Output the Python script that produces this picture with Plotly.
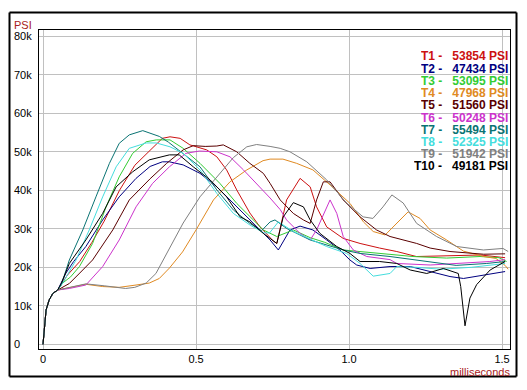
import plotly.graph_objects as go

# ---------------- data (time in ms, pressure in thousands of PSI) ----------------
common_t = [0, 0.004, 0.01, 0.02, 0.032, 0.048]
common_v = [0, 4.6, 8.9, 11.5, 13.2, 14.1]

t1_t = [0.08, 0.12, 0.16, 0.2, 0.25, 0.3, 0.35, 0.39, 0.415, 0.448, 0.48, 0.535, 0.568, 0.6, 0.633, 0.676, 0.709, 0.753, 0.764, 0.796, 0.84, 0.873, 0.894, 0.927, 0.981, 1.036, 1.1, 1.156, 1.22, 1.32, 1.43, 1.51]
t1_v = [18, 21.5, 26.5, 32, 40, 46.5, 50.5, 53.5, 53.9, 53.5, 51.8, 50.5, 48.7, 45.3, 40.1, 34.1, 30.5, 26.8, 26.2, 37.5, 43.1, 40.9, 35.7, 30.5, 27.5, 26.2, 25, 24.1, 22.8, 22.9, 23.2, 22.5]

t2_t = [0.075, 0.1, 0.14, 0.195, 0.249, 0.304, 0.35, 0.39, 0.413, 0.458, 0.513, 0.568, 0.633, 0.687, 0.742, 0.769, 0.807, 0.84, 0.882, 0.927, 0.97, 1.003, 1.025, 1.069, 1.134, 1.2, 1.265, 1.33, 1.374, 1.44, 1.51]
t2_v = [18.5, 21.5, 25.4, 32.3, 38.3, 43.1, 46.2, 47.4, 47.4, 46.6, 44.4, 40.9, 35.7, 31.4, 27.1, 24.5, 29.7, 30.7, 29.7, 27.1, 24.5, 21.9, 20.6, 19.7, 20.2, 20.2, 18.9, 17.6, 17.1, 18, 18.9]

t3_t = [0.064, 0.09, 0.119, 0.162, 0.206, 0.249, 0.293, 0.337, 0.37, 0.415, 0.458, 0.513, 0.578, 0.633, 0.676, 0.72, 0.764, 0.818, 0.873, 0.92, 0.981, 1.046, 1.134, 1.209, 1.319, 1.428, 1.49, 1.515]
t3_v = [15.9, 17.5, 20.2, 26.2, 35.7, 43.5, 49.6, 52.6, 53.1, 53.1, 50.9, 47, 41.8, 36.6, 33.1, 29.7, 28, 29.7, 27.7, 26.5, 24.5, 24, 23.2, 22.8, 22.4, 22.8, 22.5, 21.5]

t4_t = [0.07, 0.086, 0.14, 0.195, 0.249, 0.304, 0.347, 0.38, 0.413, 0.456, 0.5, 0.557, 0.611, 0.666, 0.719, 0.742, 0.784, 0.829, 0.882, 0.938, 1.003, 1.047, 1.079, 1.118, 1.156, 1.193, 1.232, 1.265, 1.319, 1.374, 1.44, 1.48, 1.51, 1.52]
t4_v = [14.5, 14.8, 15.6, 15, 14.8, 15.4, 15.9, 17.1, 19.8, 24, 29.7, 37.5, 42.2, 45.3, 47.7, 48.1, 48.1, 47, 45.3, 41.4, 36.6, 31.8, 29.3, 28.4, 31.4, 34.4, 32.7, 29.7, 27.1, 24.2, 22.8, 22.3, 20.5, 19.5]

t5_t = [0.086, 0.12, 0.162, 0.228, 0.282, 0.35, 0.404, 0.458, 0.491, 0.53, 0.568, 0.589, 0.633, 0.676, 0.72, 0.742, 0.775, 0.818, 0.851, 0.873, 0.894, 0.916, 0.938, 0.981, 1.036, 1.09, 1.134, 1.221, 1.265, 1.33, 1.44, 1.51]
t5_v = [15.8, 18.5, 21.9, 29.7, 37.5, 43, 47, 50.5, 51.6, 51.4, 51.5, 51.8, 50, 47, 44.4, 41.8, 37.5, 34, 32.3, 31.4, 37.5, 42.2, 42.2, 37.5, 33.1, 29.7, 28, 26.2, 25, 24.1, 23.4, 23.5]

t6_t = [0.086, 0.14, 0.195, 0.249, 0.304, 0.358, 0.413, 0.467, 0.511, 0.568, 0.611, 0.655, 0.698, 0.742, 0.775, 0.796, 0.84, 0.873, 0.894, 0.927, 0.938, 0.96, 0.981, 1.014, 1.058, 1.134, 1.156, 1.265, 1.374, 1.46, 1.51]
t6_v = [14.5, 15.4, 20.2, 27.1, 35.7, 41.8, 46.1, 49.6, 50.2, 50, 48.7, 45.3, 41.8, 38, 35, 32.3, 28.8, 27.1, 29.7, 35.7, 37.5, 34, 28, 24.5, 22.8, 22, 21, 20.6, 21, 21.5, 22]

t7_t = [0.06, 0.086, 0.13, 0.173, 0.217, 0.249, 0.282, 0.326, 0.35, 0.38, 0.41, 0.458, 0.513, 0.568, 0.622, 0.676, 0.714, 0.742, 0.758, 0.796, 0.873, 0.981, 1.036, 1.134, 1.25, 1.35, 1.45, 1.51]
t7_v = [15.5, 21.9, 29.7, 38.3, 47, 52.2, 54.4, 55.5, 54.8, 54, 52.5, 49.5, 46.1, 40.1, 34.9, 31.4, 29.5, 31.8, 32.3, 30.1, 27.1, 24.5, 23.6, 22.8, 21.5, 20.5, 21, 21.5]

t8_t = [0.065, 0.108, 0.151, 0.195, 0.239, 0.282, 0.337, 0.37, 0.415, 0.458, 0.513, 0.568, 0.622, 0.676, 0.72, 0.74, 0.769, 0.818, 0.927, 0.992, 1.036, 1.079, 1.134, 1.156, 1.22, 1.3, 1.4, 1.51]
t8_v = [16, 21.9, 29.7, 38.3, 46.1, 50.9, 52.3, 52.3, 51.3, 49.6, 45.3, 39.2, 34, 31, 29, 28.9, 31.8, 29.3, 25.4, 23.6, 21, 17.7, 18.4, 20.2, 20, 19.5, 20, 21]

t9_t = [0.07, 0.14, 0.2, 0.27, 0.3, 0.337, 0.369, 0.404, 0.458, 0.513, 0.568, 0.622, 0.666, 0.698, 0.742, 0.775, 0.807, 0.84, 0.862, 0.927, 0.992, 1.046, 1.078, 1.111, 1.14, 1.177, 1.221, 1.286, 1.352, 1.439, 1.503, 1.52]
t9_v = [14.5, 15.7, 15.2, 14.5, 14.8, 15.9, 18.4, 23.5, 31.5, 38.3, 43.5, 48.5, 51.3, 51.9, 51.4, 50.9, 50, 48.5, 47.4, 42.7, 36.7, 33.1, 32.7, 35.7, 38.8, 36.7, 31.4, 28, 25.4, 24.5, 24.9, 24.1]

t10_t = [0.06, 0.086, 0.14, 0.195, 0.239, 0.293, 0.347, 0.413, 0.445, 0.491, 0.546, 0.6, 0.644, 0.676, 0.72, 0.764, 0.785, 0.818, 0.851, 0.873, 0.905, 0.96, 1.003, 1.036, 1.1, 1.156, 1.2, 1.254, 1.308, 1.357, 1.365, 1.379, 1.395, 1.417, 1.461, 1.51]
t10_v = [15.8, 21, 27.1, 34, 40.9, 44.8, 47.9, 49.2, 49.2, 46.1, 42.7, 38.3, 33.1, 31.8, 28.8, 26.2, 33.1, 36.8, 35.7, 32.3, 28.8, 25.4, 23.6, 21.5, 21.5, 21, 19.3, 18.4, 19.7, 18.4, 15, 4.8, 12, 15.5, 19.3, 21.5]

series_times = [t1_t, t2_t, t3_t, t4_t, t5_t, t6_t, t7_t, t8_t, t9_t, t10_t]
series_values = [t1_v, t2_v, t3_v, t4_v, t5_v, t6_v, t7_v, t8_v, t9_v, t10_v]

names = ["T1", "T2", "T3", "T4", "T5", "T6", "T7", "T8", "T9", "T10"]
peaks = [53854, 47434, 53095, 47968, 51560, 50248, 55494, 52325, 51942, 49181]
colors = ["#cc1111", "#000080", "#33cc33", "#e08a22", "#5a0000",
          "#cc33cc", "#0a7373", "#44dddd", "#808080", "#000000"]

y_ticks = [0, 10, 20, 30, 40, 50, 60, 70, 80]
y_labels = ["0", "10k", "20k", "30k", "40k", "50k", "60k", "70k", "80k"]
x_ticks = [0, 0.5, 1.0, 1.5]
x_labels = ["0", "0.5", "1.0", "1.5"]

# ---------------- figure ----------------
# The page body has an 8px default margin, so the figure starts at page (8, 8).
OFF = 8
W, H = 511, 374
PL, PT, PR, PB = 39, 30, 510, 349          # plot box in page pixels
L, T = PL - OFF, PT - OFF
R, B = W - (PR - OFF), H - (PB - OFF)
PW, PH = PR - PL, PB - PT


def px_x(x):
    return (x - PL) / PW


def px_y(y):
    return (PB - y) / PH


FONT = "Liberation Sans, Arial, sans-serif"
fig = go.Figure()

for i in range(len(names)):
    fig.add_trace(go.Scatter(
        x=common_t + series_times[i],
        y=common_v + series_values[i],
        mode="lines",
        name=names[i],
        line=dict(color=colors[i], width=1),
        showlegend=False,
        hoverinfo="skip",
    ))

annotations = []
for v, lab in zip(y_ticks, y_labels):
    annotations.append(dict(x=px_x(12), xref="paper", y=v, yref="y", text=lab,
                            xanchor="left", yanchor="middle", showarrow=False,
                            font=dict(family=FONT, size=11, color="black")))

annotations.append(dict(x=px_x(12), xref="paper", y=px_y(24.5), yref="paper", text="PSI",
                        xanchor="left", yanchor="middle", showarrow=False,
                        font=dict(family=FONT, size=11, color="#a82020")))
annotations.append(dict(x=px_x(512), xref="paper", y=px_y(372), yref="paper", text="milliseconds",
                        xanchor="right", yanchor="middle", showarrow=False,
                        font=dict(family=FONT, size=11, color="#a82020")))

for i in range(len(names)):
    yc = px_y(56 + 12.2 * i)
    annotations.append(dict(x=px_x(509), xref="paper", y=yc, yref="paper",
                            text="<b>%s -&nbsp;&nbsp;&nbsp;%d PSI</b>" % (names[i], peaks[i]),
                            xanchor="right", yanchor="middle", borderpad=0, height=11,
                            valign="middle",
                            showarrow=False, font=dict(family=FONT, size=12, color=colors[i])))

# outer frame: four lines in paper coordinates
FX0, FX1, FY0, FY1 = 9.5, 516.5, 12.5, 376.5
frame = [
    (FX0, FY0, FX1, FY0), (FX0, FY1, FX1, FY1),
    (FX0, FY0, FX0, FY1), (FX1, FY0, FX1, FY1),
]
shapes = [dict(type="line", xref="paper", yref="paper", layer="above",
               x0=px_x(a), y0=px_y(b), x1=px_x(c), y1=px_y(d),
               line=dict(color="black", width=2)) for a, b, c, d in frame]

fig.update_layout(
    width=W, height=H,
    margin=dict(l=L, r=R, t=T, b=B, pad=0),
    paper_bgcolor="white", plot_bgcolor="white",
    xaxis=dict(range=[-0.0131, 1.526], tickvals=x_ticks, ticktext=x_labels,
               showgrid=True, gridcolor="#c0c0c0", gridwidth=1, zeroline=False,
               showline=True, mirror=True, linecolor="black", linewidth=1,
               ticks="", tickfont=dict(family=FONT, size=11, color="black")),
    yaxis=dict(range=[-1.22, 81.64], tickvals=y_ticks, showticklabels=False,
               showgrid=True, gridcolor="#c0c0c0", gridwidth=1, zeroline=False,
               showline=True, mirror=True, linecolor="black", linewidth=1, ticks=""),
    annotations=annotations,
    shapes=shapes,
)

fig.write_html("out.html")
